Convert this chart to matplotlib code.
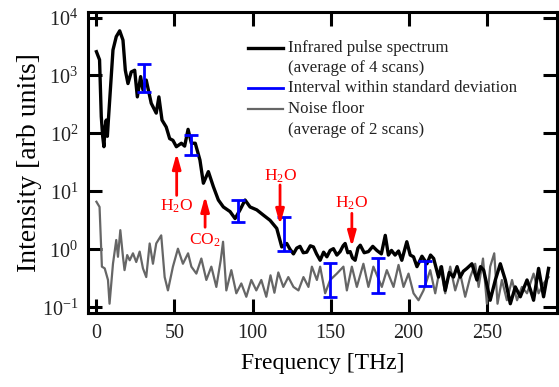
import numpy as np
import matplotlib
matplotlib.use("Agg")
import matplotlib.pyplot as plt
from matplotlib.lines import Line2D

plt.rcParams['font.family'] = ['Liberation Serif', 'DejaVu Serif']
plt.rcParams['mathtext.fontset'] = 'custom'
plt.rcParams['mathtext.rm'] = 'Liberation Serif'
plt.rcParams['mathtext.it'] = 'Liberation Serif:italic'

# ---- data ----
spec_freq = [0, 2, 3.1, 4.0, 4.8, 5.5, 6.3, 7.0, 7.8, 10.6, 12.7, 14.9, 17, 18.5, 20.2, 22.3,
             24.5, 26.2, 28.3, 29.8, 31.9, 35.1, 38.3, 40, 42, 44.7, 46.9, 49, 51.2, 54.4,
             56.5, 58.7, 60.8, 63.3, 66.3, 68.5, 71.7, 74.9, 78.1, 81.3, 85.6, 88.8, 92,
             95.2, 98.4, 102.7, 106.9, 111.2, 115.5, 118.7, 121.9, 124, 126.2, 128.3, 130.4,
             132.5, 134.7, 137, 139, 141, 143.3, 145.5, 147.6, 149.7, 151.8, 154, 156.1,
             158, 159.3, 161, 162.5, 164, 165.7, 167.5, 169, 171.5, 174.2, 177, 179.6, 182.5,
             185, 187, 189, 191.3, 193.5, 195.6, 198.8, 201, 203.1, 205.3, 208.5, 211.7, 214,
             216, 219.1, 221, 223.4, 226, 228.7, 231, 233, 235, 237.3, 240.5, 243.7, 246,
             248, 250, 252.2, 255.5, 258.7, 261.9, 265.1, 268.3, 271.5, 275.8, 278, 280,
             283.2, 286.4, 289.6]
spec_log10 = [3.41, 3.27, 2.29, 1.95, 1.77, 2.10, 2.23, 1.95, 2.29, 3.44, 3.67, 3.77, 3.61,
              3.09, 2.86, 3.06, 3.09, 2.63, 2.98, 2.75, 2.92, 2.52, 2.35, 2.63, 2.23, 2.11,
              1.91, 1.88, 1.77, 1.83, 1.78, 2.07, 1.83, 1.83, 1.54, 1.14, 1.34, 1.08, 0.85,
              0.73, 0.65, 0.53, 0.68, 0.85, 0.73, 0.68, 0.59, 0.50, 0.36, 0.04, 0.10, 0.00,
              -0.08, 0.02, 0.05, -0.06, -0.05, 0.06, 0.04, -0.08, -0.19, -0.05, -0.13, -0.02,
              0.01, -0.10, -0.04, 0.06, 0.10, -0.06, -0.04, -0.15, -0.19, 0.02, 0.07, -0.06,
              -0.04, 0.05, -0.02, -0.08, 0.24, -0.10, -0.02, -0.10, -0.03, -0.19, 0.13, -0.10,
              -0.13, -0.30, -0.12, -0.25, -0.10, -0.16, -0.48, -0.30, -0.71, -0.40, -0.48,
              -0.30, -0.48, -0.38, -0.33, -0.25, -0.53, -0.30, -0.36, -0.60, -0.88, -0.53,
              -0.25, -0.53, -0.94, -0.65, -0.82, -0.53, -0.70, -0.88, -0.33, -0.82, -0.33]

noise_freq = [0, 2, 3.5, 5.3, 7.4, 8.4, 10.6, 12.7, 13.8, 15.3, 17, 18, 19.7, 21.3, 23.4, 25.5,
              27.7, 29.8, 31.9, 34.1, 36.2, 38.3, 41.5, 43.7, 45.8, 49, 52.2, 55.4, 58.7, 60.8,
              64, 67.2, 70.4, 73.6, 76.8, 79.6, 81.1, 83.2, 86.4, 89.6, 92.8, 96, 99.2, 102.4,
              105.6, 108.8, 111.5, 114, 116.5, 119.7, 122.9, 126.2, 129.4, 132.6, 135.8, 138,
              141.2, 143.3, 146.5, 149.7, 154, 158.2, 160.4, 163.6, 166.8, 171, 174.2, 177.4,
              182.8, 186, 190.3, 193.5, 196.7, 199.9, 203.1, 206.3, 209.5, 213.8, 217, 220.2,
              223.4, 226.6, 229.8, 233, 236.2, 239.4, 242.6, 244.8, 247.6, 250.1, 252.2, 254.8,
              256.9, 259.7, 262.9, 266.2, 269.4, 272.5, 275.8, 280, 283.2, 286.4, 289.6]
noise_log10 = [0.82, 0.73, -0.30, -0.33, -0.53, -0.94, -0.25, 0.16, -0.13, 0.33, -0.13, -0.36,
               -0.10, -0.19, -0.07, -0.22, -0.04, -0.33, -0.48, 0.10, -0.25, 0.10, 0.24, -0.48,
               -0.71, -0.30, 0.01, -0.25, -0.07, -0.30, -0.42, -0.16, -0.53, -0.30, -0.65,
               -0.19, 0.13, -0.71, -0.36, -0.76, -0.59, -0.82, -0.53, -0.71, -0.53, -0.82,
               -0.45, -0.75, -0.40, -0.65, -0.48, -0.65, -0.71, -0.48, -0.65, -0.30, -0.53,
               -0.30, -0.76, -0.53, -0.42, -0.30, -0.71, -0.30, -0.65, -0.25, -0.65, -0.30,
               -0.65, -0.36, -0.65, -0.27, -0.65, -0.42, -0.76, -0.88, -0.71, -0.36, -0.76,
               -0.30, -0.76, -0.30, -0.71, -0.42, -0.82, -0.48, -0.25, -0.65, -0.16, -0.94,
               -0.30, -0.07, -0.94, -0.53, -0.88, -0.53, -0.88, -0.65, -0.76, -0.42, -0.76,
               -0.59, -0.48]

err_freq = [30.4, 60.8, 90.9, 120.2, 149.3, 180.6, 210.6]
err_low_log10 = [2.72, 1.63, 0.47, -0.03, -0.83, -0.76, -0.63]
err_high_log10 = [3.20, 1.97, 0.85, 0.56, -0.23, -0.15, -0.21]

# absorption markers: (label, freq, tail log10, tip log10, label log10)
absorptions = [
    ("H$_2$O", 51.4, 0.93, 1.66, 0.74),
    ("CO$_2$", 69.6, 0.38, 0.92, 0.16),
    ("H$_2$O", 117.6, 1.11, 0.42, 1.26),
    ("H$_2$O", 163.6, 0.62, 0.04, 0.80),
]

legend_labels = ["Infrared pulse spectrum", "(average of 4 scans)",
                 "Interval within standard deviation", "Noise floor",
                 "(average of 2 scans)"]

# ---- derived values ----
spec = 10 ** np.array(spec_log10)
noise = 10 ** np.array(noise_log10)
err_lo = 10 ** np.array(err_low_log10)
err_hi = 10 ** np.array(err_high_log10)
err_mid = np.sqrt(err_lo * err_hi)

fig = plt.figure(figsize=(5.59, 3.87), dpi=100)
ax = fig.add_axes([88 / 559, 1 - 313 / 387, 469 / 559, 301 / 387])

ax.plot(noise_freq, noise, color='#666666', lw=1.6, zorder=2)
ax.plot(spec_freq, spec, color='black', lw=2.4, zorder=3)
ax.errorbar(err_freq, err_mid, yerr=[err_mid - err_lo, err_hi - err_mid], fmt='none',
            ecolor='#0000ff', elinewidth=2, capsize=5, capthick=2, zorder=4)

for lab, fx, tail, tip, ly in absorptions:
    ax.annotate('', xy=(fx, 10 ** tip), xytext=(fx, 10 ** tail),
                arrowprops=dict(arrowstyle='-|>,head_length=0.9,head_width=0.25',
                                color='red', lw=2, shrinkA=0, shrinkB=0), zorder=5)
    ax.text(fx, 10 ** ly, lab, color='red', ha='center', va='center', fontsize=12.5)

ax.set_yscale('log')
ax.set_xlim(-5.4, 295)
ax.set_ylim(10 ** -1.10, 10 ** 4.095)
ax.set_xticks([0, 50, 100, 150, 200, 250])
ax.set_yticks([1e-1, 1e0, 1e1, 1e2, 1e3, 1e4])
ax.minorticks_off()
ax.tick_params(which='major', direction='in', length=10, width=2.2, top=True, right=True,
               labelsize=14.5, colors='black', labelcolor='#222222')
ax.tick_params(axis='x', pad=8)
ax.tick_params(axis='y', pad=7)
for s in ax.spines.values():
    s.set_linewidth(2.2)

ax.set_xlabel('Frequency [THz]', fontsize=17, labelpad=7)
ax.set_ylabel('Intensity [arb units]', fontsize=20, labelpad=0)

# legend drawn manually so handles align with the first text line
hx0, hx1, tx = 0.341, 0.416, 0.426
rows = [0.881, 0.814, 0.748, 0.678, 0.608]
handles = {0: ('black', 2.4), 2: ('#0000ff', 2.0), 3: ('#666666', 1.6)}
for i, (lab, ry) in enumerate(zip(legend_labels, rows)):
    if i in handles:
        c, w = handles[i]
        ax.add_line(Line2D([hx0, hx1], [ry, ry], color=c, lw=w, transform=ax.transAxes))
    ax.text(tx, ry, lab, transform=ax.transAxes, ha='left', va='center', fontsize=12.2,
            color='#222222')

fig.savefig('out.png', dpi=100)
